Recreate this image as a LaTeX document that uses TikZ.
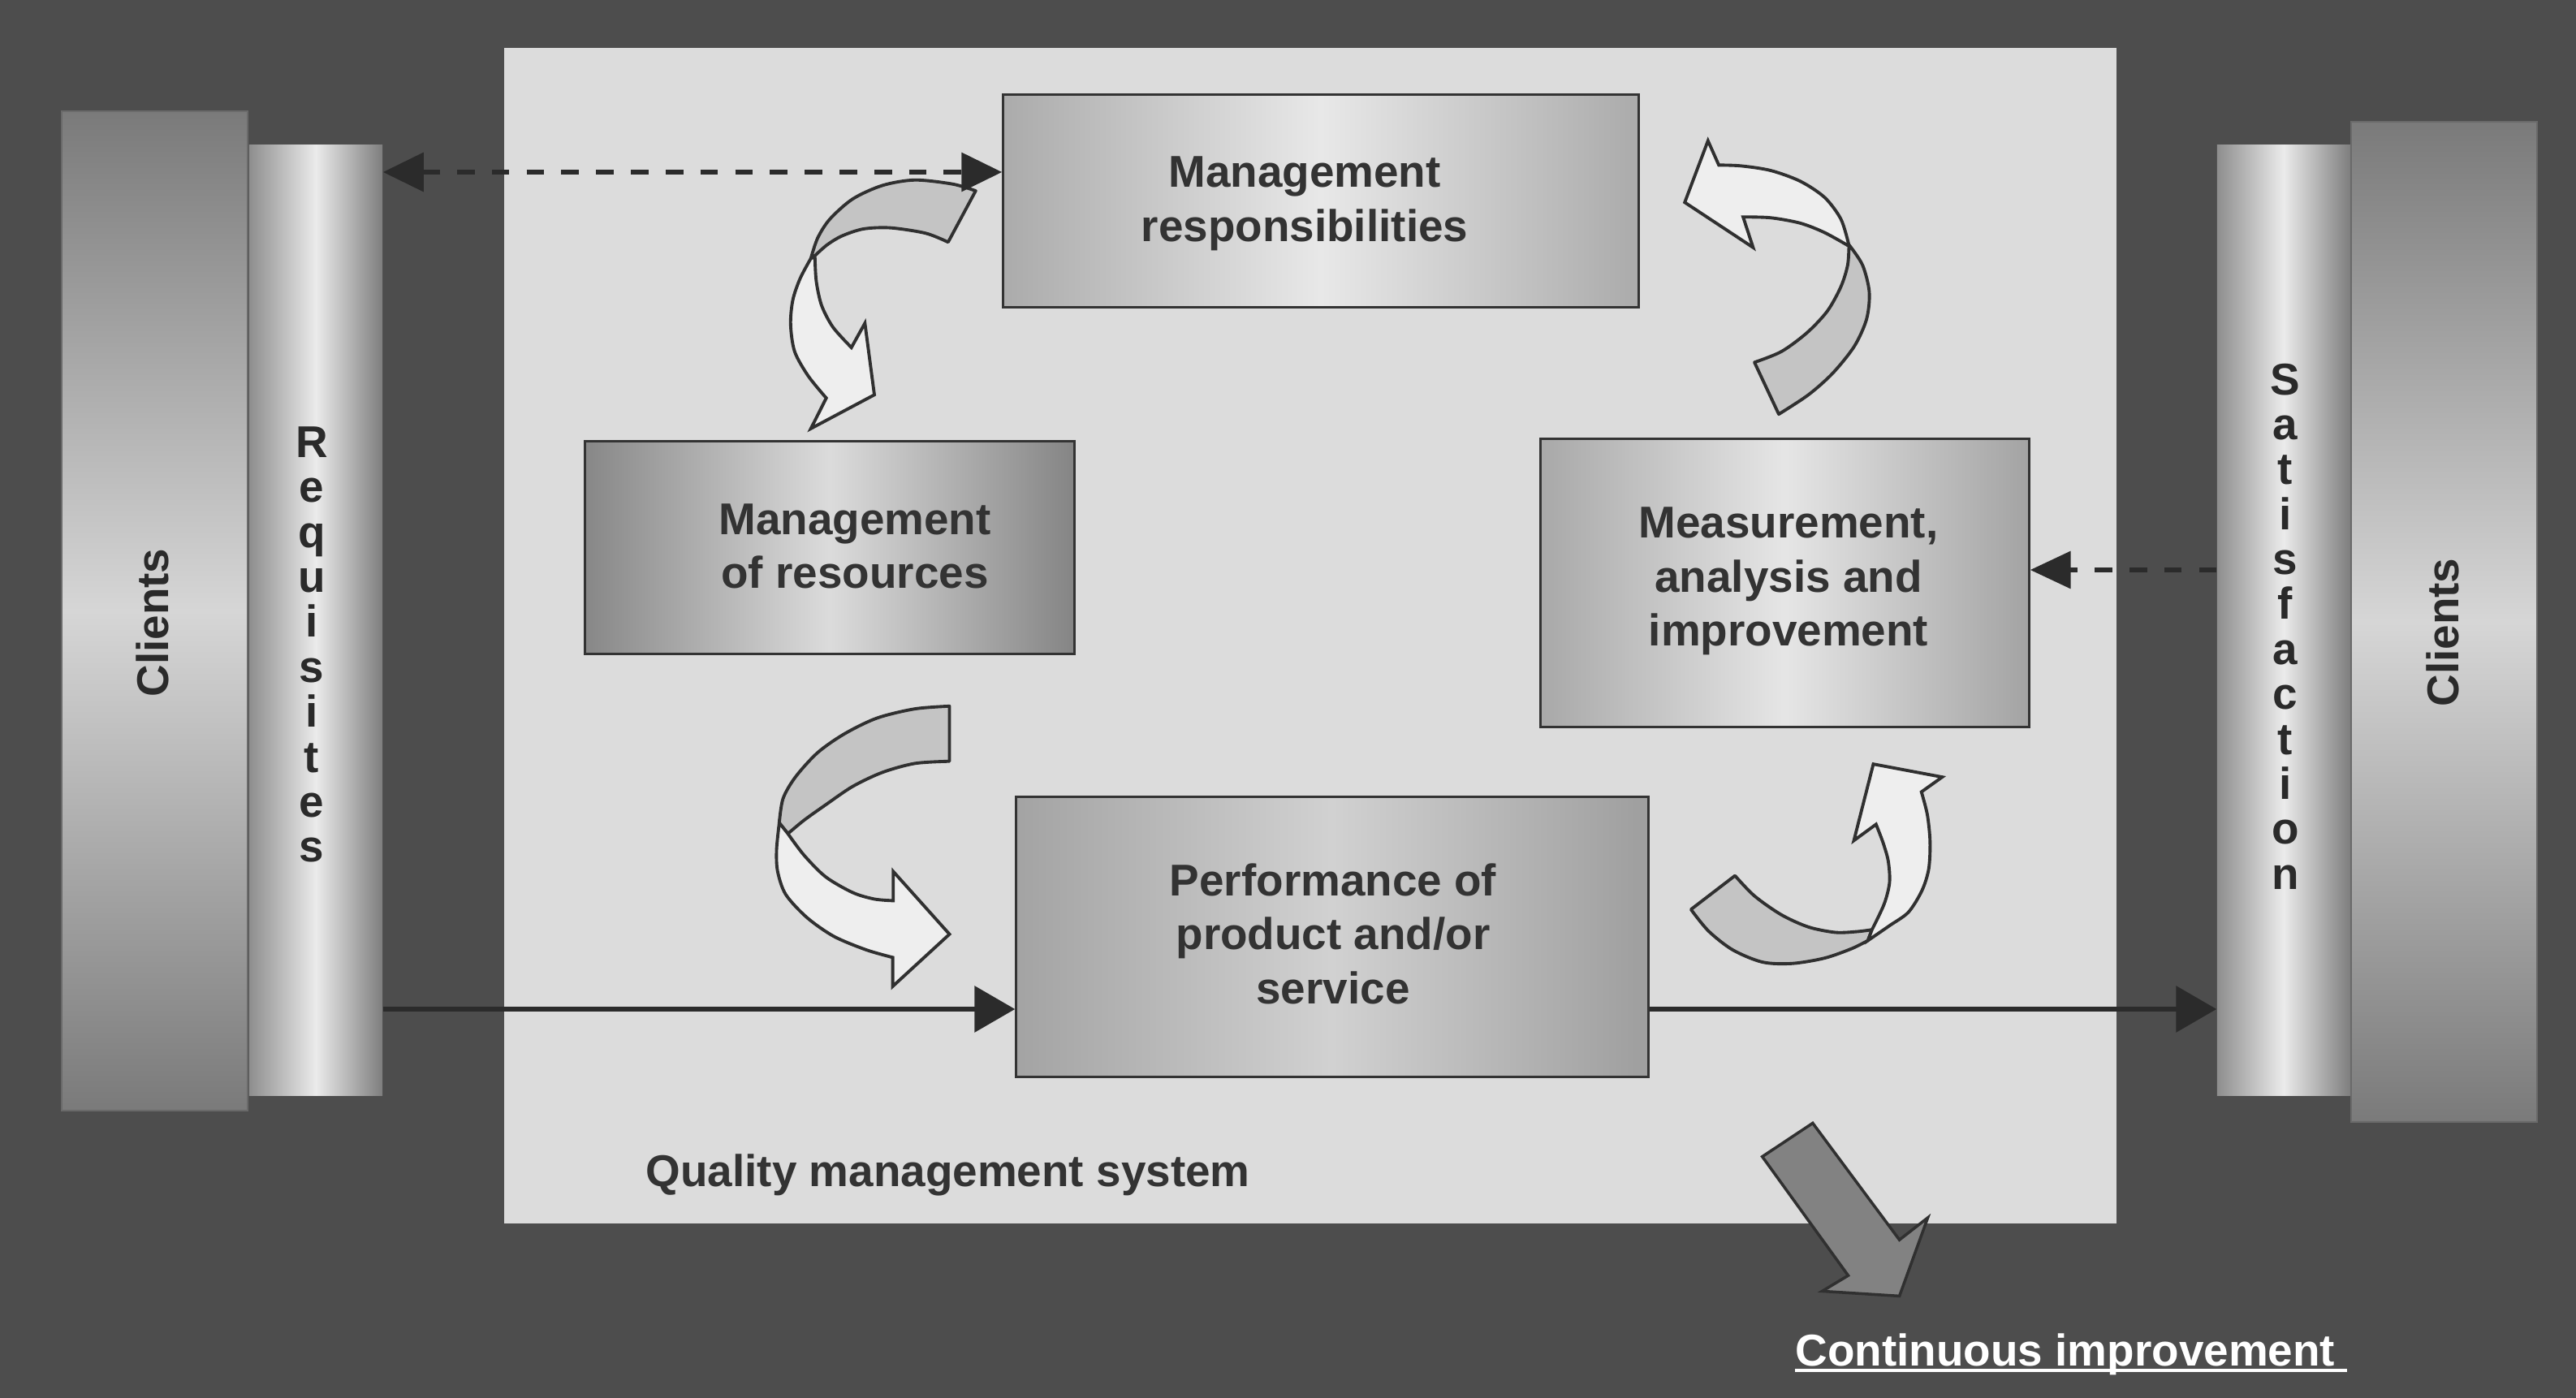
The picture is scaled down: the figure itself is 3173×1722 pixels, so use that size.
\documentclass[tikz,border=0pt]{standalone}
\usepackage{fontspec}
\setmainfont{Liberation Sans}
\usetikzlibrary{arrows.meta}
\definecolor{bg}{HTML}{4D4D4D}
\definecolor{panel}{HTML}{DCDCDC}
\definecolor{ink}{HTML}{333333}
\definecolor{colink}{HTML}{2A2A2A}
\definecolor{arrowink}{HTML}{2B2B2B}
\definecolor{outline}{HTML}{303030}
\definecolor{bandDark}{HTML}{C4C4C4}
\definecolor{bandLight}{HTML}{EEEEEE}
\definecolor{bigarrow}{HTML}{828282}
\definecolor{colline}{HTML}{6A6A6A}
\definecolor{clend}{HTML}{7A7A7A}
\definecolor{clmid}{HTML}{D6D6D6}
\definecolor{cyleft}{HTML}{8E8E8E}
\definecolor{cymid}{HTML}{EBEBEB}
\definecolor{cyright}{HTML}{7E7E7E}
\begin{document}
\begin{tikzpicture}[x=0.01cm, y=-0.01cm,
  txt/.style={font=\fontsize{15.6pt}{18.9pt}\selectfont\bfseries, text=ink, align=center, inner sep=0pt},
  vtxt/.style={font=\fontsize{15.6pt}{15.75pt}\selectfont\bfseries, text=colink, align=center, inner sep=0pt, anchor=north},
  procbox/.style={rectangle, draw=ink, line width=0.85pt, inner sep=0pt},
  clientcol/.style={rectangle, inner sep=0pt, minimum width=2.29cm, top color=clend, bottom color=clend, middle color=clmid, draw=colline, line width=0.5pt},
  cylcol/.style={rectangle, inner sep=0pt, minimum width=1.64cm, minimum height=11.70cm, left color=cyleft, right color=cyright, middle color=cymid},
  banddark/.style={fill=bandDark, draw=outline, line width=1.1pt, line join=round},
  bandlight/.style={fill=bandLight, draw=outline, line width=1.1pt, line join=miter},
  flow/.style={draw=arrowink, line width=1.9pt, -{Triangle[length=0.5cm,width=0.56cm]}},
  dflow/.style={draw=arrowink, line width=1.9pt, dash pattern=on 0.217cm off 0.211cm},
]
% background and panel
\fill[bg] (0,0) rectangle (3173,1722);
\fill[panel] (621,59) rectangle (2607,1507);

% side columns
\node[clientcol, minimum height=12.31cm] (cl1) at (190.5,752.5) {};
\node[cylcol] (req) at (389,764) {};
\node[cylcol] (sat) at (2813,764) {};
\node[clientcol, minimum height=12.32cm] (cl2) at (3010.5,766) {};

% process boxes
\node[procbox, minimum width=7.82cm, minimum height=2.61cm,
      left color=black!33, right color=black!33, middle color=black!9] (mr) at (1627,247.5) {};
\node[procbox, minimum width=6.02cm, minimum height=2.61cm,
      left color=black!47, right color=black!48, middle color=black!14] (res) at (1022,674.5) {};
\node[procbox, minimum width=6.01cm, minimum height=3.54cm,
      left color=black!34, right color=black!36, middle color=black!10] (meas) at (2198.5,718) {};
\node[procbox, minimum width=7.78cm, minimum height=3.44cm,
      left color=black!36, right color=black!38, middle color=black!18] (perf) at (1641,1154) {};

% curved arrow A (responsibilities -> resources)
\begin{scope}[shift={(9.40cm,-2.00cm)}, x=0.0033333cm, y=-0.0033333cm]
  \filldraw[banddark] (785,105) -- (683,295)
    -- plot[smooth] coordinates {(683,295) (600,262) (470,242) (370,246) (290,272) (235,305) (190,345)}
    -- (175,355)
    -- plot[smooth] coordinates {(175,355) (200,280) (245,210) (330,135) (440,85) (560,65) (700,80) (785,105)}
    -- cycle;
  \filldraw[bandlight] (190,350)
    -- plot[smooth] coordinates {(190,350) (195,440) (215,530) (257,610) (325,685)}
    -- (375,595) -- (410,860) -- (175,985) -- (232,872)
    -- plot[smooth] coordinates {(232,872) (165,790) (115,700) (100,600) (108,510) (135,430) (175,355)}
    -- cycle;
\end{scope}

% curved arrow B (resources -> performance)
\begin{scope}[shift={(9.40cm,-8.60cm)}, x=0.0033333cm, y=-0.0033333cm]
  \filldraw[banddark] (688,28) -- (688,232)
    -- plot[smooth] coordinates {(688,232) (560,240) (440,273) (330,325) (230,393) (150,450) (90,500)}
    -- (58,460)
    -- plot[smooth] coordinates {(58,460) (72,370) (118,290) (200,200) (300,130) (420,72) (560,38) (688,28)}
    -- cycle;
  \filldraw[bandlight] (90,500)
    -- plot[smooth] coordinates {(90,500) (150,580) (230,660) (330,718) (410,742) (480,748)}
    -- (480,640) -- (688,872) -- (478,1065) -- (478,958)
    -- plot[smooth] coordinates {(478,958) (380,930) (260,880) (160,810) (82,725) (52,640) (48,560) (58,460)}
    -- cycle;
\end{scope}

% curved arrow C (measurement -> responsibilities)
\begin{scope}[shift={(20.60cm,-1.60cm)}, x=0.0033333cm, y=-0.0033333cm]
  \filldraw[banddark] (300,860) -- (390,1052)
    -- plot[smooth] coordinates {(390,1052) (500,980) (590,900) (670,800) (715,700) (725,600) (700,500) (650,425)}
    -- plot[smooth] coordinates {(650,425) (645,500) (620,580) (570,670) (495,750) (400,820) (300,860)}
    -- cycle;
  \filldraw[bandlight] (648,420)
    -- plot[smooth] coordinates {(648,420) (620,330) (560,250) (470,190) (360,150) (250,133) (168,130)}
    -- (128,40) -- (42,268) -- (295,435) -- (258,322)
    -- plot[smooth] coordinates {(258,322) (360,325) (470,345) (560,380) (650,430)}
    -- cycle;
\end{scope}

% curved arrow D (performance -> measurement)
\begin{scope}[shift={(20.60cm,-9.20cm)}, x=0.0033333cm, y=-0.0033333cm]
  \filldraw[banddark] (65,600) -- (228,475)
    -- plot[smooth] coordinates {(228,475) (300,550) (400,620) (500,665) (600,685) (680,682) (735,675)}
    -- (720,715)
    -- plot[smooth] coordinates {(720,715) (660,745) (560,780) (440,800) (330,795) (220,750) (130,680) (65,600)}
    -- cycle;
  \filldraw[bandlight] (735,675)
    -- plot[smooth] coordinates {(735,675) (780,580) (800,500) (795,420) (775,350) (750,285)}
    -- (668,345) -- (740,62) -- (995,110) -- (918,165)
    -- plot[smooth] coordinates {(918,165) (940,250) (950,350) (945,450) (920,530) (870,610) (800,660) (720,715)}
    -- cycle;
\end{scope}

% continuous improvement arrow
\begin{scope}[shift={(21.50cm,-13.60cm)}, x=0.0048468cm, y=-0.0033333cm]
  \filldraw[fill=bigarrow, draw=outline, line width=1pt, line join=miter]
    (40,192) -- (168,68) -- (388,500) -- (460,418) -- (388,708) -- (192,690) -- (258,632) -- cycle;
\end{scope}

% connectors
\coordinate (ya) at (0,212);
\coordinate (yb) at (0,702);
\coordinate (yc) at (0,1243);
\draw[dflow, {Triangle[length=0.5cm,width=0.47cm]}-{Triangle[length=0.5cm,width=0.47cm]}] (req.east |- ya) -- (mr.west |- ya);
\draw[dflow, -{Triangle[length=0.5cm,width=0.45cm]}] (sat.west |- yb) -- (meas.east |- yb);
\draw[flow] (req.east |- yc) -- (perf.west |- yc);
\draw[flow] (perf.east |- yc) -- (sat.west |- yc);

% texts
\node[txt, text=colink, rotate=90] (cl1t) at (188,767) {Clients};
\node[txt, text=colink, rotate=90] (cl2t) at (3009,779) {Clients};
\node[vtxt] (reqt) at (384,525) {R\\e\\q\\u\\i\\s\\i\\t\\e\\s};
\node[vtxt] (satt) at (2815,447) {S\\a\\t\\i\\s\\f\\a\\c\\t\\i\\o\\n};
\node[txt] (mrt) at (1607,251) {Management\\responsibilities};
\node[txt] (rest) at (1053,673) {Management\\of resources};
\node[txt] (meast) at (2203,716) {Measurement,\\analysis and\\improvement};
\node[txt] (perft) at (1642,1150) {Performance of\\product and/or\\service};
\node[txt, anchor=base west] (qms) at (795,1461) {Quality management system};
\node[txt, text=white, anchor=west] (ci) at (2211,1668) {Continuous improvement};
\draw[white, line width=0.9pt] ([yshift=-0.20cm]ci.west) -- ++(680,0);
\end{tikzpicture}
\end{document}
